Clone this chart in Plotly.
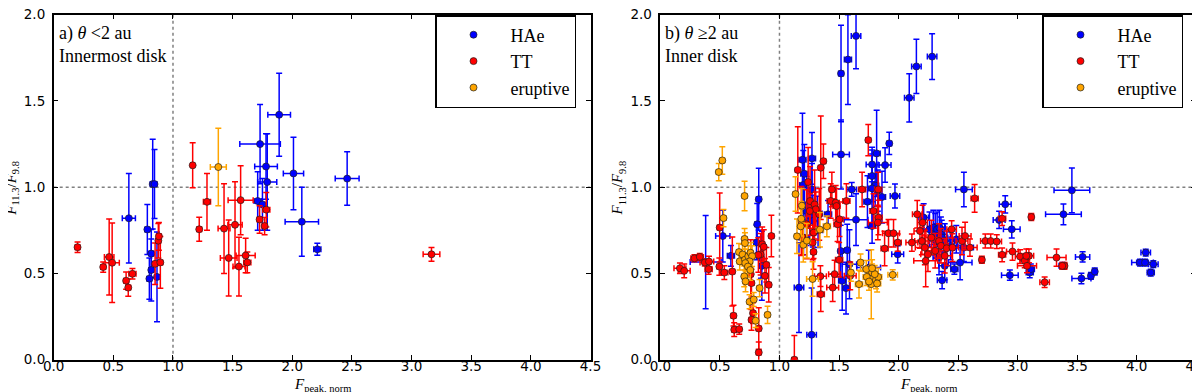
import plotly.graph_objects as go
from plotly.subplots import make_subplots

# ---- panel a) theta < 2 au, innermost disk ----
a_hae_x = [0.63, 0.83, 0.845, 0.785, 0.818, 0.818, 0.802, 0.866, 1.89, 1.73, 1.78, 1.79, 1.71, 1.75, 2.01, 2.08, 2.21, 2.46]
a_hae_y = [0.82, 1.018, 1.018, 0.755, 0.615, 0.52, 0.47, 0.48, 1.42, 1.25, 1.12, 1.03, 0.92, 0.90, 1.08, 0.80, 0.64, 1.05]
a_hae_xerr = [0.055, 0.02, 0.02, 0.02, 0.02, 0.02, 0.02, 0.02, 0.095, 0.17, 0.095, 0.08, 0.03, 0.03, 0.085, 0.14, 0.03, 0.1]
a_hae_yerr = [0.26, 0.26, 0.2, 0.145, 0.14, 0.18, 0.12, 0.26, 0.24, 0.23, 0.19, 0.28, 0.17, 0.15, 0.21, 0.2, 0.035, 0.155]

a_tt_x = [0.20, 0.415, 0.465, 0.49, 0.607, 0.625, 0.66, 0.85, 0.877, 0.882, 0.894, 1.165, 1.22, 1.285,
          1.428, 1.467, 1.52, 1.553, 1.567, 1.609, 1.623, 1.726, 1.768, 1.782, 3.167]
a_tt_y = [0.652, 0.537, 0.595, 0.562, 0.458, 0.418, 0.498, 0.556, 0.69, 0.715, 0.564, 1.127, 0.756, 0.915,
          0.76, 0.59, 0.782, 0.54, 0.925, 0.604, 0.564, 0.813, 0.775, 0.87, 0.611]
a_tt_xerr = [0.02, 0.02, 0.04, 0.06, 0.02, 0.02, 0.03, 0.02, 0.02, 0.02, 0.02, 0.015, 0.02, 0.03,
             0.05, 0.07, 0.06, 0.05, 0.105, 0.08, 0.03, 0.02, 0.02, 0.03, 0.07]
a_tt_yerr = [0.03, 0.03, 0.22, 0.23, 0.05, 0.05, 0.03, 0.12, 0.1, 0.08, 0.15, 0.13, 0.07, 0.165,
             0.26, 0.22, 0.25, 0.17, 0.2, 0.1, 0.06, 0.08, 0.05, 0.1, 0.04]

a_er_x = [1.38]
a_er_y = [1.117]
a_er_xerr = [0.067]
a_er_yerr = [0.225]

# ---- panel b) theta >= 2 au, inner disk ----
b_hae_x = [1.517, 1.575, 1.643, 2.09, 2.15, 2.282, 1.517, 1.922, 1.816, 1.778, 1.887, 1.778, 1.804, 1.778,
           1.826, 1.739, 1.861, 1.97, 1.778, 1.643, 1.993, 1.607, 1.193, 1.209, 1.2, 1.273, 1.273, 1.228,
           1.254, 1.28, 1.324, 1.202, 1.164, 1.27, 1.318, 1.408, 1.514, 1.569, 1.588, 1.527, 1.559, 1.749,
           1.231, 0.524, 0.592, 0.38, 0.826, 0.813, 0.807, 0.845, 0.852,
           2.211, 2.26, 2.292, 2.308, 2.324, 2.343, 2.356, 2.363, 2.314, 2.388, 2.34, 2.388, 2.366, 2.469,
           2.517, 2.549, 2.437, 2.485, 2.549, 2.896, 2.845, 2.951, 2.935, 3.102, 3.111, 3.385, 3.456,
           3.378, 3.546, 3.536, 3.616, 3.648, 4.028, 4.07, 4.076, 4.14, 4.118]
b_hae_y = [1.659, 1.74, 1.877, 1.518, 1.70, 1.757, 1.19, 1.254, 1.196, 1.132, 1.128, 1.065, 1.01, 0.993,
           0.98, 0.916, 0.943, 0.949, 0.775, 0.812, 0.611, 0.987, 1.159, 1.078, 1.013, 1.167, 0.987, 0.862,
           0.833, 0.804, 0.75, 0.708, 0.418, 0.145, 0.847, 0.843, 0.63, 0.635, 0.553, 0.457, 0.415, 0.534,
           0.897, 0.717, 0.602, 0.566, 0.93, 0.785, 0.679, 0.592, 0.544,
           0.824, 0.756, 0.766, 0.727, 0.756, 0.766, 0.727, 0.708, 0.688, 0.688, 0.592, 0.544, 0.461, 0.525,
           0.563, 0.987, 0.66, 0.698, 0.65, 0.901, 0.81, 0.756, 0.49, 0.505, 0.525, 0.843, 0.982,
           0.544, 0.596, 0.471, 0.486, 0.511, 0.563, 0.563, 0.621, 0.554, 0.505]
b_hae_xerr = [0.02, 0.03, 0.04, 0.04, 0.04, 0.04, 0.07, 0.02, 0.03, 0.05, 0.05, 0.03, 0.03, 0.03,
              0.03, 0.03, 0.03, 0.04, 0.03, 0.1, 0.05, 0.04, 0.03, 0.03, 0.03, 0.03, 0.03, 0.04,
              0.04, 0.04, 0.04, 0.04, 0.04, 0.04, 0.04, 0.03, 0.02, 0.02, 0.06, 0.03, 0.03, 0.1,
              0.04, 0.06, 0.03, 0.13, 0.02, 0.02, 0.02, 0.02, 0.02,
              0.04, 0.05, 0.05, 0.05, 0.05, 0.05, 0.05, 0.05, 0.06, 0.08, 0.05, 0.05, 0.04, 0.03,
              0.1, 0.07, 0.06, 0.06, 0.08, 0.05, 0.05, 0.07, 0.07, 0.03, 0.03, 0.15, 0.15,
              0.03, 0.06, 0.08, 0.02, 0.02, 0.07, 0.07, 0.04, 0.04, 0.03]
b_hae_yerr = [0.28, 0.26, 0.19, 0.14, 0.157, 0.133, 0.2, 0.065, 0.25, 0.1, 0.1, 0.15, 0.12, 0.2,
              0.12, 0.15, 0.15, 0.07, 0.1, 0.15, 0.05, 0.04, 0.27, 0.17, 0.2, 0.15, 0.15, 0.2,
              0.15, 0.15, 0.1, 0.1, 0.26, 0.27, 0.1, 0.08, 0.15, 0.15, 0.2, 0.17, 0.15, 0.1,
              0.1, 0.15, 0.06, 0.27, 0.18, 0.12, 0.1, 0.12, 0.2,
              0.08, 0.1, 0.1, 0.12, 0.1, 0.1, 0.1, 0.1, 0.1, 0.1, 0.1, 0.08, 0.05, 0.03,
              0.1, 0.1, 0.08, 0.08, 0.08, 0.05, 0.05, 0.05, 0.03, 0.03, 0.03, 0.06, 0.13,
              0.02, 0.03, 0.03, 0.02, 0.02, 0.02, 0.02, 0.02, 0.02, 0.02]

b_tt_x = [0.164, 0.2, 0.286, 0.331, 0.373, 0.408, 0.405, 0.498, 0.495, 0.537, 0.604, 0.614, 0.62, 0.662,
          0.759, 0.765, 0.778, 0.765, 0.826, 0.826, 0.842, 0.855, 0.878, 0.89, 0.91, 0.932, 0.868, 0.823,
          1.125, 1.154, 1.183, 1.228, 1.241, 1.257, 1.286, 1.295, 1.334, 1.347, 1.369, 1.347, 1.344, 1.279,
          1.286, 1.305, 1.254, 1.193, 1.44, 1.43, 1.472, 1.479, 1.562, 1.488, 1.504, 1.463, 1.447, 1.501,
          1.594, 1.694, 1.746, 1.829, 1.832, 1.883, 1.826, 1.916, 1.958, 1.993, 1.79,
          2.112, 2.157, 2.202, 2.18, 2.196, 2.221, 2.228, 2.247, 2.276, 2.308, 2.34, 2.356, 2.388, 2.404,
          2.453, 2.446, 2.533, 2.559, 2.6, 2.639, 2.7, 2.729, 2.774, 2.825, 2.87, 2.87, 2.957, 3.021,
          3.06, 3.079, 3.095, 3.073, 3.115, 3.227, 3.327, 3.394, 3.375]
b_tt_y = [0.53, 0.515, 0.588, 0.596, 0.563, 0.569, 0.525, 0.766, 0.54, 0.505, 0.511, 0.255, 0.174, 0.177,
          0.496, 0.444, 0.27, 0.231, 0.181, 0.042, 0.611, 0.669, 0.486, 0.55, 0.434, 0.717, 0.654, 0.607,
          0.0, 1.1, 0.804, 0.785, 1.03, 0.92, 0.737, 0.9, 0.843, 1.113, 1.151, 0.38, 0.484, 0.679,
          0.625, 0.872, 0.862, 0.708, 0.987, 0.92, 0.91, 0.891, 0.92, 0.785, 0.814, 0.496, 0.418, 0.579,
          0.486, 0.987, 1.273, 0.987, 0.824, 0.644, 0.795, 0.733, 0.733, 0.679, 0.862,
          0.679, 0.843, 0.795, 0.746, 0.688, 0.65, 0.573, 0.611, 0.708, 0.631, 0.688, 0.66, 0.602, 0.646,
          0.65, 0.756, 0.688, 0.717, 0.65, 0.935, 0.579, 0.688, 0.688, 0.685, 0.818, 0.608, 0.627, 0.598,
          0.573, 0.544, 0.602, 0.602, 0.827, 0.449, 0.592, 0.544, 0.544]
b_tt_xerr = [0.05, 0.05, 0.03, 0.03, 0.04, 0.04, 0.03, 0.02, 0.02, 0.03, 0.02, 0.02, 0.02, 0.02,
             0.02, 0.02, 0.02, 0.02, 0.02, 0.02, 0.02, 0.02, 0.02, 0.02, 0.02, 0.02, 0.02, 0.02,
             0.02, 0.02, 0.02, 0.02, 0.02, 0.02, 0.02, 0.02, 0.02, 0.02, 0.02, 0.03, 0.05, 0.02,
             0.02, 0.02, 0.02, 0.02, 0.02, 0.03, 0.03, 0.03, 0.03, 0.03, 0.03, 0.05, 0.05, 0.03,
             0.05, 0.03, 0.02, 0.03, 0.03, 0.03, 0.08, 0.05, 0.05, 0.03, 0.03,
             0.05, 0.04, 0.04, 0.05, 0.06, 0.08, 0.1, 0.06, 0.06, 0.08, 0.06, 0.06, 0.06, 0.06,
             0.05, 0.04, 0.05, 0.05, 0.06, 0.03, 0.02, 0.04, 0.04, 0.04, 0.03, 0.03, 0.05, 0.04,
             0.04, 0.08, 0.04, 0.04, 0.02, 0.04, 0.08, 0.02, 0.02]
b_tt_yerr = [0.03, 0.04, 0.02, 0.02, 0.02, 0.03, 0.03, 0.2, 0.05, 0.04, 0.2, 0.06, 0.04, 0.03,
             0.2, 0.08, 0.06, 0.06, 0.12, 0.06, 0.12, 0.1, 0.1, 0.1, 0.1, 0.12, 0.1, 0.1,
             0.14, 0.25, 0.2, 0.2, 0.2, 0.2, 0.15, 0.2, 0.15, 0.3, 0.1, 0.1, 0.06, 0.1,
             0.1, 0.1, 0.1, 0.1, 0.1, 0.1, 0.1, 0.1, 0.1, 0.1, 0.1, 0.08, 0.08, 0.1,
             0.08, 0.1, 0.09, 0.1, 0.1, 0.1, 0.1, 0.08, 0.08, 0.05, 0.1,
             0.05, 0.08, 0.1, 0.1, 0.08, 0.1, 0.15, 0.1, 0.1, 0.1, 0.1, 0.1, 0.1, 0.1,
             0.08, 0.05, 0.08, 0.08, 0.05, 0.08, 0.02, 0.04, 0.04, 0.04, 0.04, 0.04, 0.05, 0.04,
             0.04, 0.04, 0.04, 0.04, 0.02, 0.03, 0.05, 0.02, 0.02]

b_er_x = [0.49, 0.52, 0.53, 0.707, 0.707, 0.71, 0.66, 0.666, 0.69, 0.71, 0.738, 0.757, 0.77, 0.75,
          0.713, 0.735, 0.704, 0.715, 0.755, 0.749, 0.784, 0.8, 0.9, 0.833,
          1.135, 1.188, 1.183, 1.178, 1.147, 1.2, 1.23, 1.34, 1.398, 1.278,
          1.681, 1.6, 1.668, 1.771, 1.81, 1.829, 1.778, 1.729, 1.8, 1.82, 1.733, 1.752, 1.951, 1.778]
b_er_y = [1.088, 1.155, 0.821, 0.949, 0.70, 0.676, 0.624, 0.57, 0.61, 0.58, 0.60, 0.62, 0.60, 0.57,
          0.56, 0.54, 0.483, 0.454, 0.52, 0.336, 0.349, 0.226, 0.26, 0.415,
          0.96, 0.893, 0.817, 0.773, 0.715, 0.666, 0.69, 0.754, 0.773, 0.468,
          0.563, 0.505, 0.438, 0.438, 0.461, 0.48, 0.505, 0.525, 0.496, 0.442, 0.48, 0.453, 0.492, 0.53]
b_er_xerr = [0.02, 0.02, 0.02, 0.02, 0.02, 0.02, 0.02, 0.02, 0.02, 0.02, 0.02, 0.02, 0.02, 0.02,
             0.02, 0.02, 0.02, 0.02, 0.02, 0.02, 0.02, 0.02, 0.02, 0.02,
             0.02, 0.02, 0.02, 0.02, 0.02, 0.02, 0.03, 0.03, 0.03, 0.05,
             0.02, 0.02, 0.03, 0.03, 0.03, 0.03, 0.03, 0.03, 0.03, 0.03, 0.03, 0.03, 0.04, 0.03]
b_er_yerr = [0.05, 0.08, 0.05, 0.085, 0.06, 0.06, 0.05, 0.05, 0.06, 0.06, 0.06, 0.06, 0.06, 0.06,
             0.06, 0.06, 0.06, 0.06, 0.06, 0.04, 0.04, 0.04, 0.05, 0.05,
             0.1, 0.1, 0.1, 0.1, 0.1, 0.1, 0.1, 0.1, 0.06, 0.1,
             0.05, 0.05, 0.08, 0.2, 0.05, 0.05, 0.05, 0.05, 0.05, 0.05, 0.05, 0.05, 0.03, 0.05]

colors = {"HAe": "#0000ff", "TT": "#ff0000", "eruptive": "#ffa500"}
panel_labels = ["a) <i>θ</i> <2 au<br>Innermost disk", "b) <i>θ</i> ≥2 au<br>Inner disk"]

panels = [
    [("HAe", a_hae_x, a_hae_y, a_hae_xerr, a_hae_yerr),
     ("TT", a_tt_x, a_tt_y, a_tt_xerr, a_tt_yerr),
     ("eruptive", a_er_x, a_er_y, a_er_xerr, a_er_yerr)],
    [("HAe", b_hae_x, b_hae_y, b_hae_xerr, b_hae_yerr),
     ("TT", b_tt_x, b_tt_y, b_tt_xerr, b_tt_yerr),
     ("eruptive", b_er_x, b_er_y, b_er_xerr, b_er_yerr)],
]

fig = make_subplots(rows=1, cols=2)

for i, groups in enumerate(panels):
    legend_name = "legend" if i == 0 else "legend2"
    for name, xs, ys, xe, ye in groups:
        c = colors[name]
        fig.add_trace(go.Scatter(
            x=xs, y=ys, mode="markers", name=name, legend=legend_name,
            marker=dict(color=c, size=7, line=dict(color="#202020", width=0.7)),
            error_x=dict(type="data", array=xe, color=c, thickness=1.5, width=3),
            error_y=dict(type="data", array=ye, color=c, thickness=1.5, width=3),
        ), row=1, col=i + 1)

W, H = 1200, 392
x_domains = [[45.7 / W, 582.5 / W], [652.4 / W, 1188.2 / W]]
y_domain = [(H - 351.7) / H, (H - 6.7) / H]

axis_common = dict(
    showline=True, linecolor="black", linewidth=1.5, mirror="ticks",
    ticks="inside", ticklen=5, tickwidth=1, tickcolor="black",
    showgrid=False, zeroline=False, ticklabeloverflow="allow",
    tickfont=dict(family="DejaVu Sans", size=13.5, color="black"),
)

for i in range(2):
    xa = "xaxis" if i == 0 else "xaxis2"
    ya = "yaxis" if i == 0 else "yaxis2"
    fig.update_layout(**{
        xa: dict(axis_common, domain=x_domains[i], range=[0, 4.5], tickvals=[0, 0.5, 1, 1.5, 2, 2.5, 3, 3.5, 4, 4.5],
                 tickformat=".1f", automargin=False, ticklabelstandoff=-7),
        ya: dict(axis_common, domain=y_domain, range=[0, 2.0], tickvals=[0, 0.5, 1, 1.5, 2],
                 tickformat=".1f", automargin=False, ticklabelstandoff=4),
    })
    xr = "x" if i == 0 else "x2"
    yr = "y" if i == 0 else "y2"
    # reference lines at 1.0
    fig.add_shape(type="line", xref=xr, yref=yr, x0=1, x1=1, y0=0, y1=2, layer="below",
                  line=dict(color="#808080", width=1.5, dash="dot"))
    fig.add_shape(type="line", xref=xr, yref=yr, x0=0, x1=4.5, y0=1, y1=1, layer="below",
                  line=dict(color="#808080", width=1.5, dash="dot"))
    x0, x1 = x_domains[i]
    fig.add_annotation(xref="paper", yref="paper", x=x0 + 3 / W, y=(H - 13) / H, xanchor="left", yanchor="top",
                       text=panel_labels[i], showarrow=False, align="left",
                       font=dict(family="Liberation Serif", size=18, color="black"))
    fig.add_annotation(xref="paper", yref="paper", x=(x0 + x1) / 2, y=5 / H, xanchor="center",
                       yanchor="bottom", text="<i>F</i><sub>peak, norm</sub>", showarrow=False, borderpad=0,
                       font=dict(family="Liberation Serif", size=15, color="black"))
    fig.add_annotation(xref="paper", yref="paper", x=(x0 * W - 42) / W, y=(H - 180) / H, xanchor="center",
                       yanchor="middle", text="<i>F</i><sub>11.3</sub>/<i>F</i><sub>9.8</sub>", showarrow=False,
                       textangle=-90, font=dict(family="Liberation Serif", size=15, color="black"))

legend_common = dict(
    xanchor="right", yanchor="top", bgcolor="white", bordercolor="black", borderwidth=1.5,
    font=dict(family="Liberation Serif", size=18, color="black"), itemwidth=64,
)
fig.update_layout(
    width=W, height=H,
    margin=dict(l=0, r=0, t=0, b=0),
    plot_bgcolor="white", paper_bgcolor="white",
    showlegend=True,
    legend=dict(legend_common, x=568 / W, y=(H - 7) / H),
    legend2=dict(legend_common, x=1175 / W, y=(H - 7) / H),
)

fig.write_html("out.html")
